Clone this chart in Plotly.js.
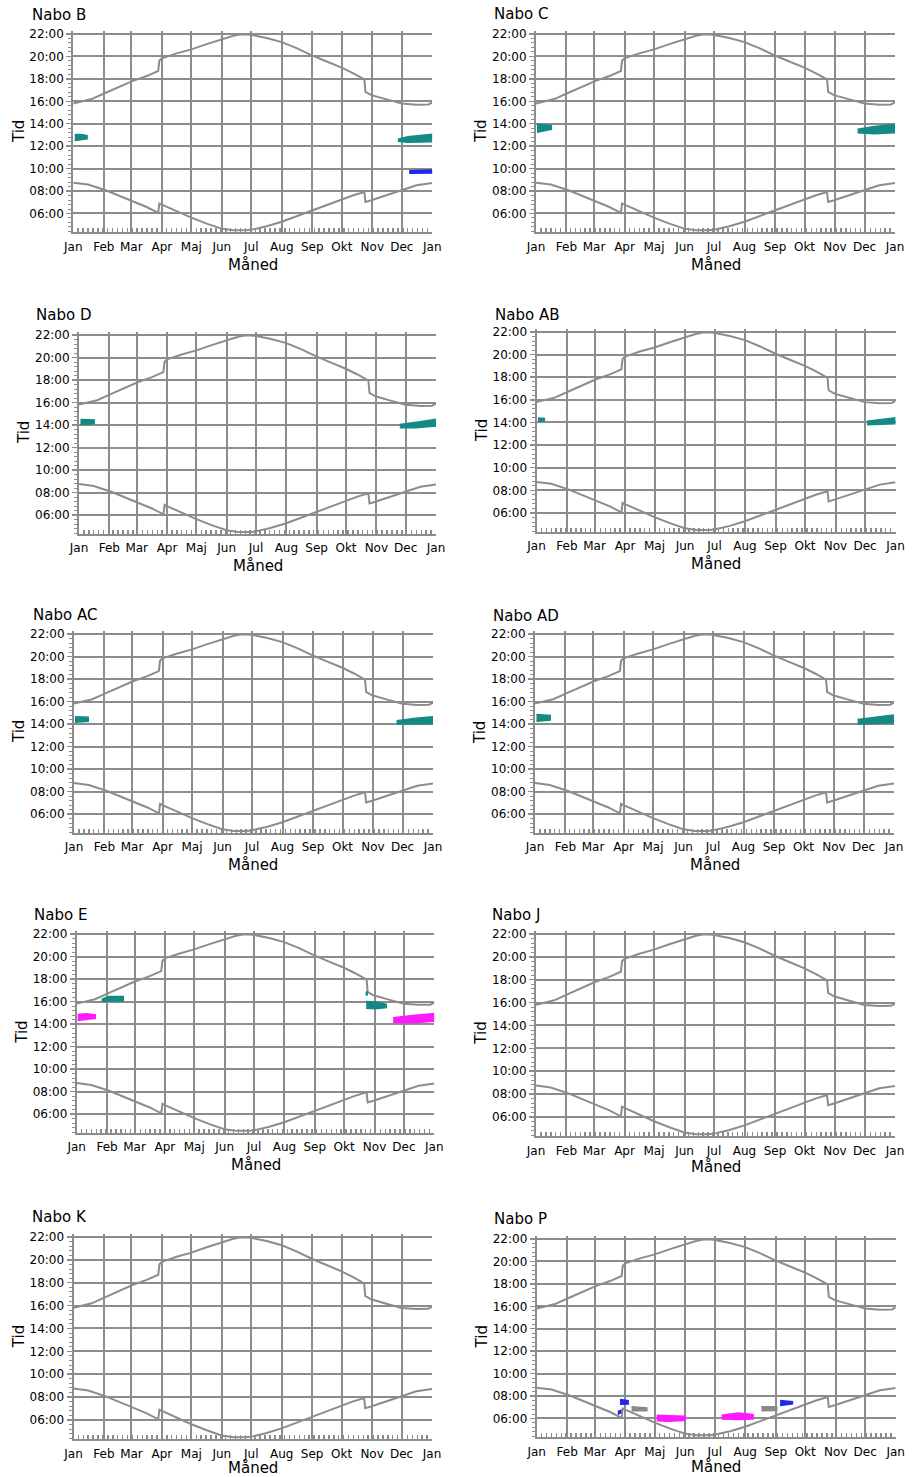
<!DOCTYPE html>
<html><head><meta charset="utf-8">
<script src="https://cdn.plot.ly/plotly-3.0.1.min.js"></script>
<style>html,body{margin:0;padding:0;background:#fff}#chart{width:914px;height:1477px}</style>
</head><body><div id="chart"></div>
<script>
// ---------- data ----------
const monthLabels = ['Jan','Feb','Mar','Apr','Maj','Jun','Jul','Aug','Sep','Okt','Nov','Dec','Jan'];
const monthStartDays = [0,31,59,90,120,151,181,212,243,273,304,334,365];
const timeTickVals = [6,8,10,12,14,16,18,20,22];
const timeTickText = ['06:00','08:00','10:00','12:00','14:00','16:00','18:00','20:00','22:00'];

const sunsetDays  = [0, 18.6, 33, 47.5, 60, 74.6, 86.3, 87.5, 90, 105, 120, 135.6, 150.8, 162.7, 171, 180, 196.6, 211.9, 227, 242, 257.6, 272.9, 284.7, 295.9, 297, 303, 318.6, 333.9, 349, 361, 365];
const sunsetHours = [15.81, 16.2, 16.76, 17.3, 17.8, 18.25, 18.7, 19.62, 19.83, 20.27, 20.63, 21.1, 21.52, 21.85, 21.97, 21.94, 21.65, 21.28, 20.74, 20.12, 19.55, 19.0, 18.49, 17.95, 16.85, 16.55, 16.17, 15.8, 15.7, 15.72, 15.9];
const sunriseDays  = [0, 15, 33, 47.5, 60, 74.6, 86.3, 87.5, 90, 105, 120, 135.6, 150.8, 162.7, 176, 183, 196.6, 211.9, 227, 242, 257.6, 272.9, 284.7, 295.9, 297, 303, 318.6, 333.9, 349, 365];
const sunriseHours = [8.75, 8.58, 8.07, 7.54, 7.09, 6.58, 6.06, 6.9, 6.79, 6.2, 5.63, 5.1, 4.65, 4.5, 4.5, 4.59, 4.86, 5.27, 5.75, 6.29, 6.79, 7.27, 7.63, 7.92, 7.03, 7.18, 7.63, 8.13, 8.51, 8.72];

// shadow periods: day of year, lower and upper clock time (hours)
const B_jan_days = [1.5, 8, 14],        B_jan_lo = [12.5, 12.55, 12.65],  B_jan_hi = [13.05, 13.05, 12.95];
const B_dec_days = [330, 340, 364.5],   B_dec_lo = [12.45, 12.35, 12.4],  B_dec_hi = [12.62, 12.85, 13.05];
const B_blue_days = [341.5, 364.5],     B_blue_lo = [9.58, 9.6],          B_blue_hi = [9.8, 9.88];

const C_jan_days = [1, 8, 15.5],        C_jan_lo = [13.25, 13.35, 13.5],  C_jan_hi = [13.95, 13.9, 13.85];
const C_dec_days = [327, 344, 364.5],   C_dec_lo = [13.2, 13.1, 13.2],    C_dec_hi = [13.5, 13.75, 13.92];

const D_jan_days = [1.5, 15.5],         D_jan_lo = [14.05, 14.1],         D_jan_hi = [14.5, 14.45];
const D_dec_days = [328, 345, 364.5],   D_dec_lo = [13.75, 13.75, 13.9],  D_dec_hi = [14.05, 14.25, 14.5];

const AB_jan_days = [1.5, 8],           AB_jan_lo = [14.1, 14.15],        AB_jan_hi = [14.4, 14.35];
const AB_dec_days = [336, 364.5],       AB_dec_lo = [13.8, 13.88],        AB_dec_hi = [14.1, 14.42];

const AC_jan_days = [1, 14.5],          AC_jan_lo = [14.15, 14.25],       AC_jan_hi = [14.65, 14.6];
const AC_dec_days = [328, 345, 364.5],  AC_dec_lo = [14.0, 14.0, 14.02],  AC_dec_hi = [14.3, 14.5, 14.65];

const AD_jan_days = [1.5, 15.5],        AD_jan_lo = [14.25, 14.35],       AD_jan_hi = [14.85, 14.75];
const AD_dec_days = [328, 345, 364.5],  AD_dec_lo = [14.0, 14.05, 14.1],  AD_dec_hi = [14.4, 14.6, 14.8];

const E_janM_days = [1, 10, 19],        E_janM_lo = [14.3, 14.4, 14.5],   E_janM_hi = [14.85, 14.9, 14.8];
const E_feb_days = [25.5, 33, 47.5],    E_feb_lo = [16.0, 16.05, 16.05],  E_feb_hi = [16.2, 16.45, 16.45];
const E_oct_days = [295, 296.5],        E_oct_lo = [16.55, 16.6],         E_oct_hi = [16.85, 16.85];
const E_nov_days = [295.5, 305, 316],   E_nov_lo = [15.4, 15.35, 15.45],  E_nov_hi = [16.0, 15.95, 15.75];
const E_decM_days = [323, 343, 364.5],  E_decM_lo = [14.15, 14.1, 14.25], E_decM_hi = [14.55, 14.75, 14.92];

const P_blue1_days = [84.7, 93],        P_blue1_lo = [7.28, 7.3],         P_blue1_hi = [7.7, 7.6];
const P_blue2_days = [82.5, 85.5],      P_blue2_lo = [6.36, 6.5],         P_blue2_hi = [6.6, 6.74];
const P_gray1_days = [96.5, 112],       P_gray1_lo = [6.68, 6.7],         P_gray1_hi = [7.05, 6.95];
const P_mag1_days = [122, 135, 151],    P_mag1_lo = [5.8, 5.75, 5.85],    P_mag1_hi = [6.3, 6.25, 6.2];
const P_mag2_days = [188, 205, 220],    P_mag2_lo = [5.95, 5.9, 5.95],    P_mag2_hi = [6.3, 6.5, 6.35];
const P_gray2_days = [228.5, 244],      P_gray2_lo = [6.68, 6.72],        P_gray2_hi = [7.05, 7.05];
const P_blue3_days = [247.5, 260],      P_blue3_lo = [7.15, 7.3],         P_blue3_hi = [7.6, 7.5];

// ---------- styles / layout ----------
const TEAL = '#148a85', BLUE = '#1e28f0', MAG = '#ff19ff', GRAYB = '#8a8a8a';
const GRID = '#8c8c8c';
const W = 914, H = 1477;
const Y_MIN = 4.33, Y_MAX = 22.24;

const panels = [
  {name:'Nabo B',  xL:73.3, xR:432.3, y22:34,   y06:213.5, tx:30,  ty:15,   my:265,
   blobs:[[B_jan_days,B_jan_lo,B_jan_hi,TEAL],[B_dec_days,B_dec_lo,B_dec_hi,TEAL],[B_blue_days,B_blue_lo,B_blue_hi,BLUE]]},
  {name:'Nabo C',  xL:536,  xR:895,   y22:34,   y06:213.5, tx:492, ty:14,   my:265,
   blobs:[[C_jan_days,C_jan_lo,C_jan_hi,TEAL],[C_dec_days,C_dec_lo,C_dec_hi,TEAL]]},
  {name:'Nabo D',  xL:79,   xR:436,   y22:335,  y06:515,   tx:34,  ty:315,  my:566,
   blobs:[[D_jan_days,D_jan_lo,D_jan_hi,TEAL],[D_dec_days,D_dec_lo,D_dec_hi,TEAL]]},
  {name:'Nabo AB', xL:536.5,xR:895.5, y22:332,  y06:513,   tx:493, ty:315,  my:564,
   blobs:[[AB_jan_days,AB_jan_lo,AB_jan_hi,TEAL],[AB_dec_days,AB_dec_lo,AB_dec_hi,TEAL]]},
  {name:'Nabo AC', xL:74,   xR:433,   y22:634,  y06:814,   tx:31,  ty:615,  my:865,
   blobs:[[AC_jan_days,AC_jan_lo,AC_jan_hi,TEAL],[AC_dec_days,AC_dec_lo,AC_dec_hi,TEAL]]},
  {name:'Nabo AD', xL:535,  xR:894,   y22:634,  y06:814,   tx:491, ty:616,  my:865,
   blobs:[[AD_jan_days,AD_jan_lo,AD_jan_hi,TEAL],[AD_dec_days,AD_dec_lo,AD_dec_hi,TEAL]]},
  {name:'Nabo E',  xL:76.7, xR:434.3, y22:934,  y06:1114,  tx:32,  ty:915,  my:1165,
   blobs:[[E_janM_days,E_janM_lo,E_janM_hi,MAG],[E_feb_days,E_feb_lo,E_feb_hi,TEAL],[E_oct_days,E_oct_lo,E_oct_hi,TEAL],
          [E_nov_days,E_nov_lo,E_nov_hi,TEAL],[E_decM_days,E_decM_lo,E_decM_hi,MAG]]},
  {name:'Nabo J',  xL:536,  xR:895,   y22:934,  y06:1117,  tx:490, ty:915,  my:1167, blobs:[]},
  {name:'Nabo K',  xL:73.5, xR:432,   y22:1237, y06:1420,  tx:30,  ty:1217, my:1467.5, blobs:[]},
  {name:'Nabo P',  xL:536.7,xR:895.7, y22:1239, y06:1418.5,tx:492, ty:1219, my:1467, 
   blobs:[[P_blue1_days,P_blue1_lo,P_blue1_hi,BLUE],[P_blue2_days,P_blue2_lo,P_blue2_hi,BLUE],[P_gray1_days,P_gray1_lo,P_gray1_hi,GRAYB],
          [P_mag1_days,P_mag1_lo,P_mag1_hi,MAG],[P_mag2_days,P_mag2_lo,P_mag2_hi,MAG],[P_gray2_days,P_gray2_lo,P_gray2_hi,GRAYB],
          [P_blue3_days,P_blue3_lo,P_blue3_hi,BLUE]]}
];

const FONT = 'DejaVu Sans, Verdana, sans-serif';
const traces = [];
const layout = {
  width: W, height: H, margin:{l:0,r:0,t:0,b:0},
  paper_bgcolor:'#fff', plot_bgcolor:'#fff', showlegend:false,
  font:{family:FONT, size:12, color:'#000'},
  annotations: []
};

panels.forEach((p, i) => {
  const k = i === 0 ? '' : String(i + 1);
  const xr = 'x' + k, yr = 'y' + k;
  const s = (p.y06 - p.y22) / 16;
  const topPx = p.y22 - (Y_MAX - 22) * s;
  const botPx = p.y06 + (6 - Y_MIN) * s;

  layout['xaxis' + k] = {
    domain:[p.xL / W, p.xR / W], range:[0, 365], anchor: yr,
    tickmode:'array', tickvals: monthStartDays, ticktext: monthLabels,
    showgrid:true, gridcolor:GRID, gridwidth:2, zeroline:false,
    showline:true, linecolor:GRID, linewidth:2,
    ticks:'inside', ticklen:5, tickcolor:GRID, tickwidth:1.5, ticklabelstandoff:2,
    minor:{tickmode:'linear', tick0:0, dtick:5, ticks:'inside', ticklen:4, tickcolor:GRID, tickwidth:1.5, showgrid:false},
    tickfont:{family:FONT, size:12, color:'#000'}, fixedrange:true
  };
  layout['yaxis' + k] = {
    domain:[1 - botPx / H, 1 - topPx / H], range:[Y_MIN, Y_MAX], anchor: xr,
    tickmode:'array', tickvals: timeTickVals, ticktext: timeTickText,
    showgrid:true, gridcolor:GRID, gridwidth:2, zeroline:false,
    showline:true, linecolor:GRID, linewidth:2,
    ticks:'outside', ticklen:5, tickcolor:GRID, tickwidth:1.5,
    minor:{tickmode:'linear', tick0:0, dtick:0.4, ticks:'outside', ticklen:3, tickcolor:GRID, tickwidth:1, showgrid:false},
    tickfont:{family:FONT, size:12, color:'#000'}, fixedrange:true
  };

  traces.push({x: sunsetDays, y: sunsetHours, xaxis: xr, yaxis: yr, mode:'lines',
               line:{color:GRID, width:2}, hoverinfo:'skip'});
  traces.push({x: sunriseDays, y: sunriseHours, xaxis: xr, yaxis: yr, mode:'lines',
               line:{color:GRID, width:2}, hoverinfo:'skip'});
  p.blobs.forEach(b => {
    const [d, lo, hi, c] = b;
    traces.push({x: d.concat(d.slice().reverse()), y: lo.concat(hi.slice().reverse()),
                 xaxis: xr, yaxis: yr, mode:'lines', fill:'toself', fillcolor:c,
                 line:{color:c, width:1.5}, hoverinfo:'skip'});
  });

  layout.annotations.push({text:p.name, xref:'paper', yref:'paper', x:p.tx / W, y:1 - p.ty / H,
    xanchor:'left', yanchor:'middle', showarrow:false, font:{family:FONT, size:15, color:'#000'}});
  layout.annotations.push({text:'Tid', xref:'paper', yref:'paper', x:(p.xL - 55) / W, y:1 - ((topPx + botPx) / 2) / H,
    xanchor:'center', yanchor:'middle', textangle:-90, showarrow:false, font:{family:FONT, size:15, color:'#000'}});
  layout.annotations.push({text:'Måned', xref:'paper', yref:'paper', x:((p.xL + p.xR) / 2) / W, y:1 - p.my / H,
    xanchor:'center', yanchor:'middle', showarrow:false, font:{family:FONT, size:15, color:'#000'}});
});

Plotly.newPlot('chart', traces, layout, {displayModeBar:false, staticPlot:true});
</script>
</body></html>
